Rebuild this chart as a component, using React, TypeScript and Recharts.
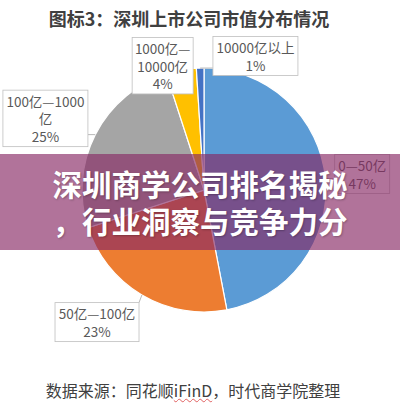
import { PieChart, Pie, Cell } from "recharts"

const categories = ["0—50亿", "50亿—100亿", "100亿—1000亿", "1000亿—10000亿", "10000亿以上"]
const shares = [47, 23, 25, 4, 1]
const colors = ["#5B9BD5", "#ED7D31", "#A5A5A5", "#FFC000", "#4472C4"]
// how Excel wrapped each callout
const labelLines = [["0—50亿"], ["50亿—100亿"], ["100亿—1000", "亿"], ["1000亿—", "10000亿"], ["10000亿以上"]]
const labelBoxWidths = [55, 84, 85, 61, 85]
// [extra radius, angle shift] of each callout from its slice
const labelOffsets = [[37, 0.4], [48, -8.4], [52, 2.7], [9, 7.6], [21.5, -22.8]]

const data = categories.map((name, i) => ({ name, value: shares[i] }))

const RADIAN = Math.PI / 180
const FONT = "'Noto Sans CJK SC', 'Noto Sans', sans-serif"
const clamp = (v: number, lo: number, hi: number) => Math.max(lo, Math.min(hi, v))

function Callout(props: any) {
  const { cx, cy, midAngle, outerRadius, index, percent } = props
  const [dr, da] = labelOffsets[index]
  const a = (midAngle + da) * RADIAN
  const bx = cx + (outerRadius + dr) * Math.cos(a)
  const by = cy - (outerRadius + dr) * Math.sin(a)
  const lines = [...labelLines[index], `${Math.round(percent * 100)}%`]
  const w = labelBoxWidths[index]
  const h = lines.length * 17.5 + 4
  const x0 = bx - w / 2
  const y0 = by - h / 2

  const ax = cx + outerRadius * Math.cos(midAngle * RADIAN)
  const ay = cy - outerRadius * Math.sin(midAngle * RADIAN)
  const nx = clamp(ax, x0, x0 + w)
  const ny = clamp(ay, y0, y0 + h)
  const len = Math.hypot(ax - nx, ay - ny)

  return (
    <g>
      {len > 3 && <line x1={ax} y1={ay} x2={nx} y2={ny} stroke="#A6A6A6" strokeWidth={0.8} />}
      <rect x={x0} y={y0} width={w} height={h} fill="#fff" stroke="#BFBFBF" strokeWidth={0.8} />
      <text textAnchor="middle" fill="#595959" fontSize={13.5} fontFamily={FONT}>
        {lines.map((l, i) => (
          <tspan key={i} x={bx} y={by + (i - (lines.length - 1) / 2) * 17.5} dominantBaseline="central">
            {l}
          </tspan>
        ))}
      </text>
    </g>
  )
}

export default function App() {
  return (
    <div style={{ position: "absolute", left: 0, top: 0, width: 400, height: 405, background: "#fff", overflow: "hidden" }}>
      <div
        style={{
          position: "absolute", left: 0, top: 6, width: 378, textAlign: "center",
          fontFamily: FONT, fontWeight: 700, fontSize: 18, color: "#404040", lineHeight: "24px",
        }}
      >
        图标3：深圳上市公司市值分布情况
      </div>

      <PieChart
        width={400}
        height={405}
        margin={{ top: 0, right: 0, bottom: 0, left: 0 }}
        style={{ position: "absolute", left: 0, top: 0 }}
      >
        <Pie
          data={data}
          dataKey="value"
          nameKey="name"
          cx={204}
          cy={190}
          outerRadius={122}
          startAngle={90}
          endAngle={-270}
          stroke="#fff"
          strokeWidth={1.2}
          label={Callout}
          labelLine={false}
          isAnimationActive={false}
        >
          {data.map((d, i) => (
            <Cell key={d.name} fill={colors[i]} />
          ))}
        </Pie>
      </PieChart>

      <div
        style={{
          position: "absolute", left: 0, top: 378, width: 386, textAlign: "center",
          fontFamily: FONT, fontSize: 16, color: "#404040", lineHeight: "24px",
        }}
      >
        数据来源：同花顺
        <span style={{ textDecoration: "underline wavy #E06060", textDecorationThickness: 1 }}>iFinD</span>
        ，时代商学院整理
      </div>

      <div
        style={{
          position: "absolute", left: 0, top: 154, width: 400, height: 96,
          background: "rgba(135, 40, 100, 0.65)",
          display: "flex", flexDirection: "column", justifyContent: "center", alignItems: "center",
          fontFamily: FONT, fontWeight: 700, fontSize: 29.5, color: "#fff", lineHeight: "37px",
          textShadow: "1px 1px 2px rgba(0,0,0,0.25)",
        }}
      >
        <div>深圳商学公司排名揭秘</div>
        <div>，行业洞察与竞争力分</div>
      </div>
    </div>
  )
}
